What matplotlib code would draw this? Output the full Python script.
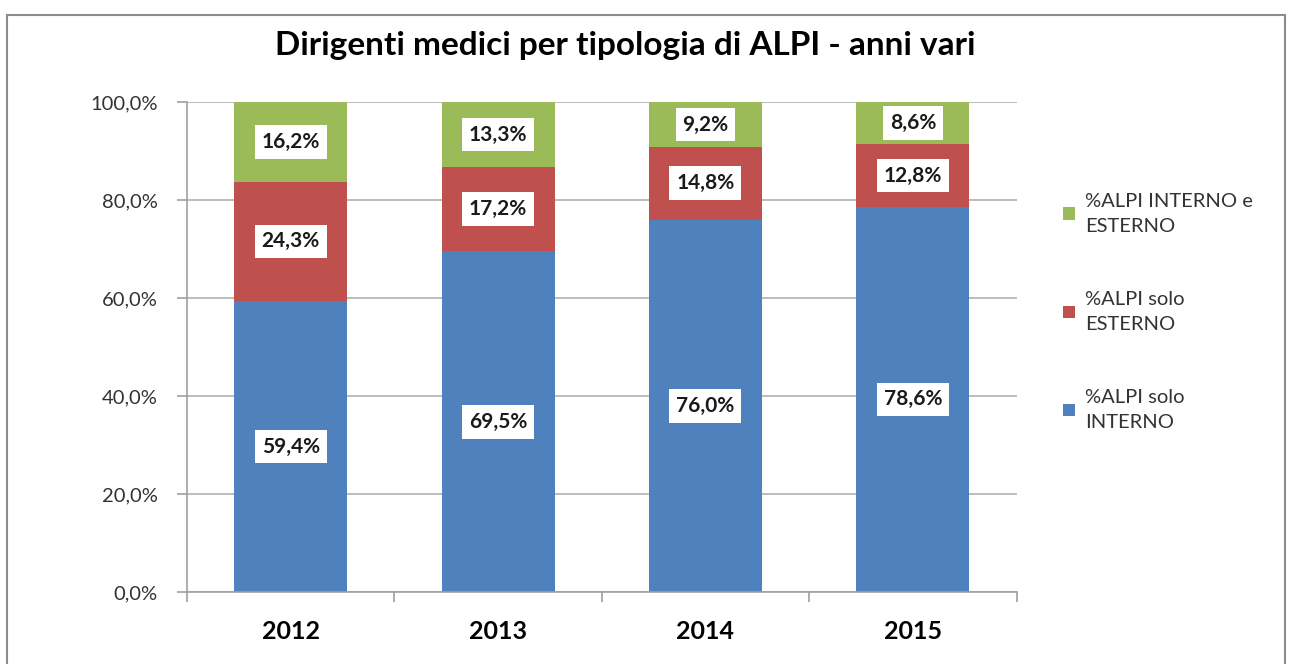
import matplotlib.pyplot as plt
from matplotlib.patches import Rectangle

years = ["2012", "2013", "2014", "2015"]
solo_interno = [59.4, 69.5, 76.0, 78.6]
solo_esterno = [24.3, 17.2, 14.8, 12.8]
interno_esterno = [16.2, 13.3, 9.2, 8.6]

plt.rcParams["font.family"] = ["Lato", "DejaVu Sans"]

fig = plt.figure(figsize=(12.9, 6.64), dpi=100)
ax = fig.add_axes([0.145, 0.1084, 0.643, 0.738])

# outer chart border
fig.patches.append(Rectangle((7 / 1290, -0.05), 1278 / 1290, 1.05 - 15 / 664,
                             transform=fig.transFigure, fill=False,
                             edgecolor="#8c8c8c", linewidth=1.5))

x = range(len(years))
w = 0.545
b1 = ax.bar(x, solo_interno, w, color="#4F81BD", label="%ALPI solo\nINTERNO", zorder=2)
bottom2 = solo_interno
b2 = ax.bar(x, solo_esterno, w, bottom=bottom2, color="#C0504D", label="%ALPI solo\nESTERNO", zorder=2)
bottom3 = [a + b for a, b in zip(solo_interno, solo_esterno)]
b3 = ax.bar(x, interno_esterno, w, bottom=bottom3, color="#9BBB59",
            label="%ALPI INTERNO e\nESTERNO", zorder=2)

for bars, vals, bots in [(b1, solo_interno, [0] * 4), (b2, solo_esterno, bottom2),
                         (b3, interno_esterno, bottom3)]:
    for i, (v, bt) in enumerate(zip(vals, bots)):
        ax.text(i, bt + v / 2, f"{v:.1f}%".replace(".", ","), ha="center", va="center",
                fontsize=15, fontweight="bold", color="#1a1a1a", zorder=3,
                bbox=dict(facecolor="white", edgecolor="none", pad=5))

ax.set_xlim(-0.5, 3.5)
ax.set_ylim(0, 100)
ax.set_yticks(range(0, 101, 20))
ax.set_yticklabels([f"{v},0%" for v in range(0, 101, 20)], fontsize=14.5, color="#333333")
ax.set_xticks(list(x))
ax.set_xticklabels(years, fontsize=18, fontweight="bold")
ax.set_xticks([-0.5, 0.5, 1.5, 2.5, 3.5], minor=True)
ax.tick_params(axis="x", which="major", length=0, pad=20)
ax.tick_params(axis="x", which="minor", length=7, color="#a0a0a0", width=1.2)
ax.tick_params(axis="y", length=7, color="#a0a0a0", width=1.2, pad=14)
ax.grid(axis="y", color="#b0b0b0", linewidth=1.2, zorder=0)
for s in ["top", "right"]:
    ax.spines[s].set_visible(False)
for s in ["left", "bottom"]:
    ax.spines[s].set_color("#a0a0a0")
    ax.spines[s].set_linewidth(1.2)

fig.text(0.485, 0.932, "Dirigenti medici per tipologia di ALPI - anni vari",
         ha="center", va="center", fontsize=24, fontweight="bold")

handles, labels = ax.get_legend_handles_labels()
leg = fig.legend(handles[::-1], labels[::-1], loc="center left",
                 bbox_to_anchor=(0.81, 0.53), frameon=False, fontsize=14.5,
                 handlelength=0.6, handleheight=0.6, handletextpad=0.5,
                 labelspacing=2.8)
for t in leg.get_texts():
    t.set_color("#333333")
    t.set_linespacing(1.55)

fig.savefig("out.png", dpi=100)
